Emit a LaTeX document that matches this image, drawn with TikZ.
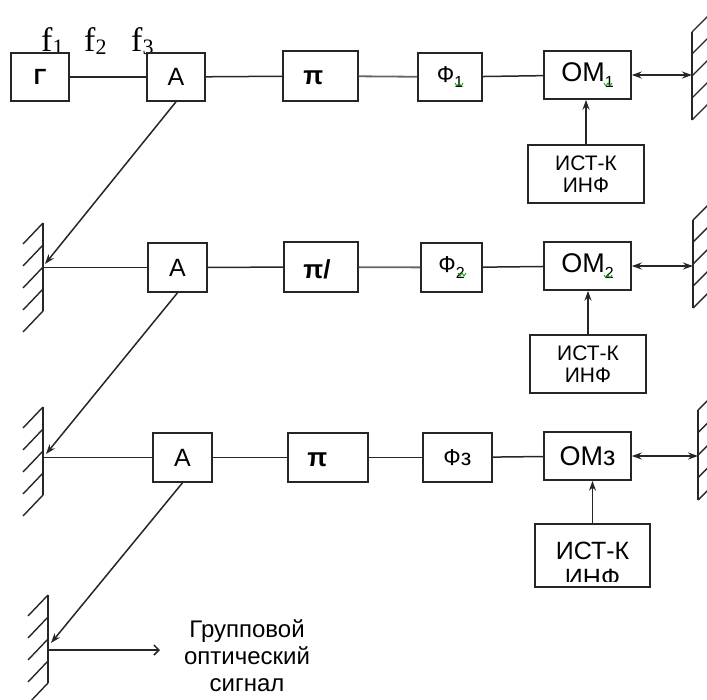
\documentclass[tikz,border=0pt]{standalone}
\usepackage{fontspec}
\setmainfont{Liberation Sans}
\newfontfamily\serifr{Liberation Serif}
\usetikzlibrary{arrows.meta}
\newcommand\sbs[1]{\raisebox{-0.22em}{\fontsize{16}{16}\selectfont #1}}
\newcommand\fsb[1]{\raisebox{-0.1em}{\fontsize{22}{22}\selectfont #1}}
\begin{document}
\begin{tikzpicture}[x=1pt,y=-1pt,
  box/.style={draw=black!85,line width=1.6pt,inner sep=0pt,font=\fontsize{25}{26}\selectfont},
  wire/.style={draw=black!85,line width=1.5pt},
  greywire/.style={draw=black!60,line width=1.8pt},
  mirror/.style={draw=black!85,line width=1.4pt},
  pitext/.style={font=\bfseries\fontsize{26}{26}\selectfont,inner sep=0pt,anchor=west},
  ftext/.style={font=\serifr\fontsize{34}{34}\selectfont,inner sep=0pt,anchor=base west},
  info/.style={align=center,font=\fontsize{21}{22}\selectfont},
  squig/.style={draw=green!60!black,line width=0.8pt},
  >={Stealth[length=10pt,width=7pt]}]
\useasboundingbox (0,0) rectangle (707,699);
\clip (0,0) rectangle (707,699);

% frequency labels
\node[ftext] (f1) at (41,51) {f\fsb{1}};
\node[ftext] (f2) at (84,51) {f\fsb{2}};
\node[ftext] (f3) at (131,51) {f\fsb{3}};

% row 1
\node[box,minimum width=58pt,minimum height=48pt,font=\bfseries\fontsize{22}{22}\selectfont] (G) at (40,77) {Г};
\node[box,minimum width=58pt,minimum height=48pt] (A1) at (176,77) {А};
\node[box,minimum width=75pt,minimum height=50pt] (P1) at (320.5,76) {};
\node[pitext] (P1t) at ([xshift=21pt,yshift=-2pt]P1.west) {π};
\node[box,minimum width=64pt,minimum height=48pt,font=\fontsize{23}{24}\selectfont] (F1) at (450,77) {Ф\sbs{1}};
\node[box,minimum width=87pt,minimum height=48pt,font=\fontsize{27}{28}\selectfont] (OM1) at (587.5,75) {ОМ\sbs{1}};
\node[box,minimum width=116pt,minimum height=58pt,info] (I1) at (586,174) {ИСТ-К\\ИНФ};

% row 2
\node[box,minimum width=59pt,minimum height=49pt] (A2) at (177.5,267.5) {А};
\node[box,minimum width=74pt,minimum height=50pt] (P2) at (321,267) {};
\node[pitext] (P2t) at ([xshift=20pt,yshift=-2pt]P2.west) {π/};
\node[box,minimum width=61pt,minimum height=49pt,font=\fontsize{23}{24}\selectfont] (F2) at (451.5,267.5) {Ф\sbs{2}};
\node[box,minimum width=87pt,minimum height=48pt,font=\fontsize{27}{28}\selectfont] (OM2) at (587.5,266) {ОМ\sbs{2}};
\node[box,minimum width=116pt,minimum height=58pt,info] (I2) at (588,364) {ИСТ-К\\ИНФ};

% row 3
\node[box,minimum width=59pt,minimum height=49pt] (A3) at (182.5,457.5) {А};
\node[box,minimum width=80pt,minimum height=49pt] (P3) at (328,457.5) {};
\node[pitext] (P3t) at ([xshift=20pt,yshift=-2pt]P3.west) {π};
\node[box,minimum width=69pt,minimum height=49pt,font=\fontsize{23}{24}\selectfont] (F3) at (457.5,457.5) {Фз};
\node[box,minimum width=87pt,minimum height=48pt,font=\fontsize{27}{28}\selectfont] (OM3) at (587.5,456) {ОМз};
\node[box,minimum width=115pt,minimum height=63pt] (I3) at (592.5,555.5) {};
\begin{scope}
  \clip ([yshift=6pt]I3.south west) rectangle (I3.north east);
  \node[info,font=\fontsize{25}{27}\selectfont] (I3t) at ([yshift=-9pt]I3.center) {ИСТ-К\\ИНФ};
\end{scope}

% group signal text
\node[align=center,font=\fontsize{24}{27}\selectfont] (grp) at (247,656) {Групповой\\оптический\\сигнал};

% spell-check squiggles
\draw[squig] (455,83) -- ++(2,3) -- ++(2,-3) -- ++(2,3) -- ++(2,-3);
\draw[squig] (604,83) -- ++(2,3) -- ++(2,-3) -- ++(2,3) -- ++(2,-3);
\draw[squig] (458,273) -- ++(2,3) -- ++(2,-3) -- ++(2,3) -- ++(2,-3);
\draw[squig] (604,275) -- ++(2,3) -- ++(2,-3) -- ++(2,3) -- ++(2,-3);

% mirror coordinates
\coordinate (M1R) at (692,75);
\coordinate (M2R) at (693,266);
\coordinate (M3R) at (698,456);
\coordinate (M2L) at (43,267.5);
\coordinate (M3L) at (43,457.5);
\coordinate (D2) at (45,264);
\coordinate (D3) at (46,454);
\coordinate (D4) at (51,643);
\coordinate (M4o) at (49,650);
\coordinate (grpin) at (160,650);

% right mirrors
\draw[mirror] (692,32) -- (692,120);
\foreach \k in {0,...,4} \draw[mirror] (692,{32+22*\k}) -- ++(16,-16);
\draw[mirror] (693,220) -- (693,308);
\foreach \k in {0,...,4} \draw[mirror] (693,{220+22*\k}) -- ++(16,-16);
\draw[mirror] (698,410) -- (698,500);
\foreach \k in {0,...,4} \draw[mirror] (698,{410+22.5*\k}) -- ++(16,-16);

% left mirrors
\draw[mirror] (43,223) -- (43,311);
\foreach \k in {0,...,4} \draw[mirror] (43,{223+22*\k}) -- ++(-20,21);
\draw[mirror] (43,407) -- (43,495);
\foreach \k in {0,...,4} \draw[mirror] (43,{407+22*\k}) -- ++(-20,21);
\draw[mirror] (48,595) -- (48,683);
\foreach \k in {0,...,4} \draw[mirror] (48,{595+22*\k}) -- ++(-20,21);

% row 1 connectors
\draw[wire] (G) -- (A1);
\draw[wire] (A1) -- (P1);
\draw[greywire] (P1) -- (F1);
\draw[wire] (F1) -- (OM1);
\draw[wire,<->] (OM1.east) -- (M1R);
\draw[wire,->] (I1.north) -- (I1.north |- OM1.south);

% row 2 connectors
\draw[wire] (M2L) -- (A2.west);
\draw[wire] (A2) -- (P2);
\draw[greywire] (P2) -- (F2);
\draw[wire] (F2) -- (OM2);
\draw[wire,<->] (OM2.east) -- (M2R);
\draw[wire,->] (I2.north) -- (I2.north |- OM2.south);

% row 3 connectors
\draw[wire] (M3L) -- (A3.west);
\draw[wire] (A3) -- (P3);
\draw[wire] (P3) -- (F3);
\draw[wire] (F3) -- (OM3);
\draw[wire,<->] (OM3.east) -- (M3R);
\draw[wire,->] (I3.north) -- (I3.north |- OM3.south);

% diagonal beams
\draw[wire,->] (A1.south) -- (D2);
\draw[wire,->] (A2.south) -- (D3);
\draw[wire,->] (A3.south) -- (D4);
\draw[wire,-{Straight Barb[length=5pt,width=10pt]}] (M4o) -- (grpin);
\end{tikzpicture}
\end{document}
